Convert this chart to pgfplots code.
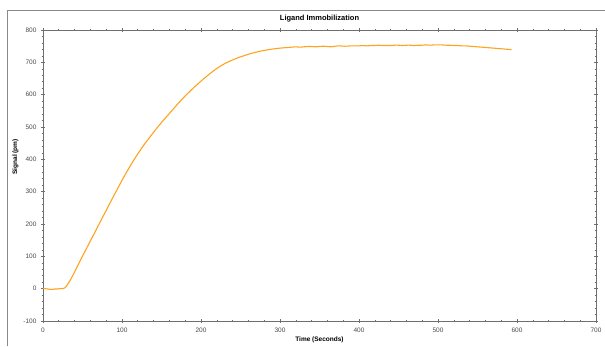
\documentclass[border=0pt]{standalone}
\usepackage{fontspec}
\setmainfont{Liberation Sans}
\usepackage{pgfplots}
\pgfplotsset{compat=1.18}
\definecolor{curve}{HTML}{FFA31F}
\definecolor{axisgray}{HTML}{6E6E6E}
\definecolor{framegray}{HTML}{8A8A8A}
\definecolor{ticktext}{HTML}{4A4A4A}
\begin{document}
\begin{tikzpicture}[x=1pt,y=1pt]
\useasboundingbox (0,0) rectangle (605,346);
\draw[framegray, line width=0.8pt] (7,0) -- (7,336) -- (605,336);
\begin{axis}[
  at={(43pt,25pt)}, anchor=south west,
  scale only axis, width=553pt, height=291pt,
  xmin=0, xmax=700, ymin=-100, ymax=800,
  xtick distance=100, ytick distance=100,
  minor x tick num=4, minor y tick num=4,
  tick align=center,
  major tick length=4pt, minor tick length=2.5pt,
  axis line style={axisgray, line width=0.7pt},
  every tick/.style={axisgray, line width=0.6pt},
  tick label style={font=\fontsize{6.5}{7}\selectfont, text=ticktext},
  /pgf/number format/assume math mode=true,
  /pgf/number format/set thousands separator={},
  xticklabel style={yshift=-1pt},
  yticklabel style={xshift=-1pt},
  every axis title shift=0pt,
  title={\textbf{Ligand Immobilization}},
  title style={font=\fontsize{7.5}{9}\selectfont, at={(axis description cs:0.5,1.038)}, anchor=center},
  xlabel={\textbf{Time (Seconds)}},
  xlabel style={font=\fontsize{6.5}{8}\selectfont, at={(axis description cs:0.5,-0.065)}, anchor=center},
  ylabel={\textbf{Signal (pm)}},
  ylabel style={font=\fontsize{6.5}{8}\selectfont, at={(axis description cs:-0.05,0.564)}, anchor=center, rotate=0},
  clip=true,
]
\addplot[curve, line width=1.1pt, line join=round, smooth, tension=0.4] coordinates {
(0,1) (3,0) (6,-1) (9,-2) (12,-2) (15,-1) (18,-1) (21,0) (24,0) (26,1)
(28,3) (30,9) (33,20) (36,33) (40,52) (45,76) (49,96) (55,124) (60,148)
(65,171) (70,195) (75,219) (80,242) (85,266) (90,289) (95,312) (100,335)
(105,357) (110,378) (115,398) (120,417) (125,435) (130,452) (135,468)
(140,484) (145,499) (150,514) (155,528) (160,542) (165,556) (170,570)
(175,583) (180,596) (185,608) (190,620) (195,631) (200,642) (205,652.5)
(210,662.5) (215,672) (220,681) (225,689) (230,696) (235,702) (240,707.5)
(245,712.5) (250,717) (255,721) (260,725) (265,728.5) (270,731.5)
(275,734.5) (280,737) (285,739) (290,741) (295,742.5) (300,744)
(305,745) (310,746) (315,747) (320,748) (325,747) (330,748) (335,749)
(340,749) (345,748) (350,749) (355,750) (360,749) (365,748) (370,750)
(375,751) (380,750) (385,750) (390,751) (395,751) (400,751) (405,752)
(410,751) (415,752) (420,752) (425,753) (430,752) (435,752) (440,752)
(445,753) (450,753) (455,752) (460,753) (465,753) (470,752) (475,753)
(480,753) (485,754) (490,753) (495,754) (500,754) (505,754) (510,753)
(515,753) (520,752) (525,752) (530,751) (535,751) (540,750) (545,749)
(550,748) (555,747) (560,746) (565,745) (570,744) (575,743) (580,742)
(585,741) (590,740) (593,739)
};
\end{axis}
\end{tikzpicture}
\end{document}
